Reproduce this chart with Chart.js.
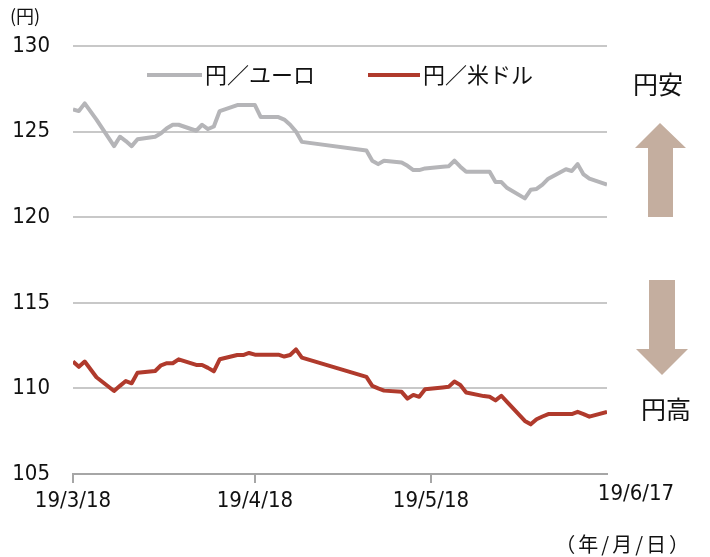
<!DOCTYPE html>
<html lang="ja">
<head>
<meta charset="utf-8">
<script src="https://cdn.jsdelivr.net/npm/chart.js@4.4.1/dist/chart.umd.min.js"></script>
<style>
  body { margin: 0; background: #fff; }
  canvas { display: block; }
</style>
</head>
<body>
<canvas id="fxChart" width="710" height="557"></canvas>
<script>
// days counted from 2019/3/18 (business days only)
const days = [0, 1, 2, 4, 7, 8, 9, 10, 11, 14, 15, 16, 17, 18, 21, 22, 23, 24, 25, 28, 29, 30, 31, 32,
  35, 36, 37, 38, 39, 50, 51, 52, 53, 56, 57, 58, 59, 60, 63, 64, 65, 66, 67, 70, 71, 72, 73, 74,
  77, 78, 79, 80, 81, 84, 85, 86, 87, 88, 91];

// 円／ユーロ
const eurYen = [126.3, 126.2, 126.65, 125.7, 124.15, 124.7, 124.45, 124.15, 124.55, 124.7, 124.9, 125.2,
  125.4, 125.4, 125.05, 125.4, 125.15, 125.3, 126.2, 126.55, 126.55, 126.55, 126.55, 125.85,
  125.85, 125.7, 125.4, 125.0, 124.4, 123.9, 123.3, 123.1, 123.3, 123.2, 123.0, 122.75, 122.75, 122.85,
  122.95, 122.97, 123.3, 122.95, 122.65, 122.65, 122.65, 122.05, 122.05, 121.7,
  121.1, 121.6, 121.65, 121.9, 122.25, 122.8, 122.7, 123.1, 122.5, 122.25, 121.9];

// 円／米ドル
const usdYen = [111.57, 111.26, 111.57, 110.65, 109.85, 110.15, 110.43, 110.3, 110.92, 111.02, 111.35, 111.47,
  111.47, 111.7, 111.37, 111.37, 111.2, 111.0, 111.7, 111.95, 111.95, 112.07, 111.97, 111.97,
  111.97, 111.86, 111.95, 112.28, 111.8, 110.67, 110.15, 110.0, 109.87, 109.8, 109.4, 109.62, 109.51, 109.95,
  110.05, 110.09, 110.4, 110.2, 109.76, 109.55, 109.51, 109.3, 109.57, 109.2,
  108.1, 107.9, 108.2, 108.36, 108.5, 108.5, 108.5, 108.63, 108.5, 108.35, 108.63];

const seriesNames = ['円／ユーロ', '円／米ドル'];
const xTickDays = [0, 31, 61, 91];
const xTickLabels = ['19/3/18', '19/4/18', '19/5/18', '19/6/17'];

const NUM_FONT = "'DejaVu Sans Condensed', 'Liberation Sans Narrow', 'DejaVu Sans', sans-serif";
const JP_FONT = "'Noto Sans CJK JP', 'Noto Sans', sans-serif";
const GREY = '#b5b5b8';
const RED = '#b03a2c';
const ARROW = '#c4ae9f';

// legend, arrows and side notes
const extras = {
  id: 'extras',
  afterDraw(chart) {
    const ctx = chart.ctx;
    ctx.save();

    // legend inside the plot
    const items = [[147, 202, 0], [368, 420, 1]];
    items.forEach(([x0, x1, i]) => {
      ctx.strokeStyle = chart.data.datasets[i].borderColor;
      ctx.lineWidth = 4;
      ctx.beginPath();
      ctx.moveTo(x0, 75);
      ctx.lineTo(x1, 75);
      ctx.stroke();
      ctx.fillStyle = '#111';
      ctx.font = '22px ' + JP_FONT;
      ctx.textBaseline = 'middle';
      ctx.textAlign = 'left';
      ctx.fillText(chart.data.datasets[i].label, x1 + 3, 75);
    });

    // unit labels
    ctx.font = '18px ' + JP_FONT;
    ctx.fillText('(円)', 10, 16);
    ctx.font = '20px ' + JP_FONT;
    ctx.textAlign = 'right';
    ctx.letterSpacing = '3px';
    ctx.fillText('（年/月/日）', 692, 544);
    ctx.letterSpacing = '0px';

    // last date label sits apart from the others
    ctx.font = '22px ' + NUM_FONT;
    ctx.textAlign = 'center';
    ctx.fillText(xTickLabels[3], 636, 494);

    // 円安 / 円高
    ctx.font = '25px ' + JP_FONT;
    ctx.fillText('円安', 658, 84);
    ctx.fillText('円高', 666, 409);

    ctx.fillStyle = ARROW;
    ctx.beginPath();
    ctx.moveTo(660, 123);
    ctx.lineTo(686, 148);
    ctx.lineTo(673, 148);
    ctx.lineTo(673, 217);
    ctx.lineTo(648, 217);
    ctx.lineTo(648, 148);
    ctx.lineTo(635, 148);
    ctx.closePath();
    ctx.fill();

    ctx.beginPath();
    ctx.moveTo(649, 280);
    ctx.lineTo(675, 280);
    ctx.lineTo(675, 349);
    ctx.lineTo(688, 349);
    ctx.lineTo(662, 375);
    ctx.lineTo(636, 349);
    ctx.lineTo(649, 349);
    ctx.closePath();
    ctx.fill();

    ctx.restore();
  }
};

const ctx = document.getElementById('fxChart').getContext('2d');
const fxChart = new Chart(ctx, {
  type: 'line',
  data: {
    datasets: [{
      label: seriesNames[0],
      data: days.map((d, i) => ({ x: d, y: eurYen[i] })),
      borderColor: GREY,
      borderWidth: 4,
      pointRadius: 0,
      tension: 0,
      borderJoinStyle: 'round'
    }, {
      label: seriesNames[1],
      data: days.map((d, i) => ({ x: d, y: usdYen[i] })),
      borderColor: RED,
      borderWidth: 4,
      pointRadius: 0,
      tension: 0,
      borderJoinStyle: 'round'
    }]
  },
  options: {
    responsive: false,
    animation: false,
    devicePixelRatio: 1,
    layout: { padding: { left: 10, right: 103, top: 46, bottom: 0 } },
    plugins: {
      legend: { display: false },
      tooltip: { enabled: false }
    },
    scales: {
      x: {
        type: 'linear',
        min: 0,
        max: 91,
        afterBuildTicks: (s) => { s.ticks = xTickDays.slice(0, 3).map(v => ({ value: v })); },
        afterFit: (s) => { s.height = 83; },
        ticks: {
          color: '#111',
          font: { family: NUM_FONT, size: 22 },
          padding: 5,
          maxRotation: 0,
          callback: (v) => xTickLabels[xTickDays.indexOf(v)]
        },
        grid: {
          drawOnChartArea: false,
          drawTicks: true,
          tickLength: 9,
          color: '#a6a6a6',
          lineWidth: 2
        },
        border: { display: true, color: '#a6a6a6', width: 2 }
      },
      y: {
        min: 105,
        max: 130,
        afterFit: (s) => { s.width = 63; },
        ticks: {
          stepSize: 5,
          color: '#111',
          font: { family: NUM_FONT, size: 22 },
          padding: 23
        },
        grid: {
          drawTicks: false,
          color: (c) => c.tick.value === 105 ? '#a6a6a6' : '#c8c8c8',
          lineWidth: 2
        },
        border: { display: false }
      }
    }
  },
  plugins: [extras]
});
</script>
</body>
</html>
